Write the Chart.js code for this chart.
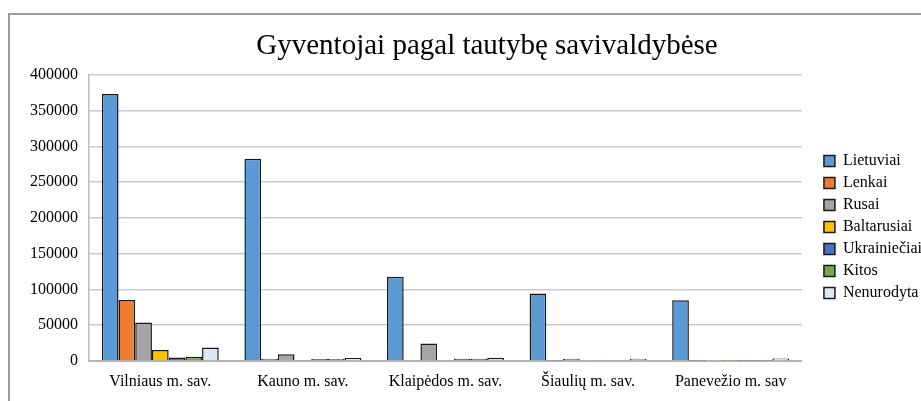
<!DOCTYPE html>
<html>
<head>
<meta charset="utf-8">
<script src="https://cdn.jsdelivr.net/npm/chart.js@4"></script>
<style>
  html, body { margin: 0; padding: 0; background: #fff; overflow: hidden; }
  #wrap { position: relative; width: 921px; height: 401px; }
  #frame {
    position: absolute; left: 8px; top: 13px; width: 940px; height: 420px;
    border: 2px solid #9a9a9a; pointer-events: none;
  }
</style>
</head>
<body>
<div id="wrap">
  <canvas id="chart" width="921" height="401"></canvas>
  <div id="frame"></div>
</div>
<script>
const municipalities = ["Vilniaus m. sav.", "Kauno m. sav.", "Klaipėdos m. sav.", "Šiaulių m. sav.", "Panevežio m. sav"];

const lietuviai    = [373000, 282500, 117600, 94400, 85000];
const lenkai       = [85400, 3300, 1000, 500, 500];
const rusai        = [53800, 9400, 24400, 3000, 1500];
const baltarusiai  = [15400, 800, 1000, 600, 500];
const ukrainieciai = [4800, 2800, 3000, 600, 500];
const kitos        = [6100, 2800, 3000, 600, 500];
const nenurodyta   = [18700, 4200, 4500, 3000, 3500];

const yTicks = [0, 50000, 100000, 150000, 200000, 250000, 300000, 350000, 400000];

const serif = "'Liberation Serif', 'Times New Roman', serif";

const series = [
  { label: "Lietuviai", data: lietuviai, color: "#5b9bd5" },
  { label: "Lenkai", data: lenkai, color: "#ed7d31" },
  { label: "Rusai", data: rusai, color: "#a5a5a5" },
  { label: "Baltarusiai", data: baltarusiai, color: "#ffc000" },
  { label: "Ukrainiečiai", data: ukrainieciai, color: "#4472c4" },
  { label: "Kitos", data: kitos, color: "#70ad47" },
  { label: "Nenurodyta", data: nenurodyta, color: "#dbe8f6" },
];

// the original centres the title on the framed box and pushes the legend to the edge
const nudgeBoxes = {
  id: "nudgeBoxes",
  afterLayout(chart) {
    const t = chart.titleBlock;
    if (t) { t.left += 19; t.right += 19; }
    const l = chart.legend;
    if (l) { l.left += 16; l.right += 16; }
  },
};

new Chart(document.getElementById("chart"), {
  type: "bar",
  data: {
    labels: municipalities,
    datasets: series.map((s) => ({
      label: s.label,
      data: s.data,
      backgroundColor: s.color,
      borderColor: "#1a1a1a",
      borderWidth: 1.5,
      categoryPercentage: 0.82,
      barPercentage: 1,
    })),
  },
  plugins: [nudgeBoxes],
  options: {
    responsive: false,
    animation: false,
    layout: { padding: { left: 20, right: 5, bottom: 10, top: 0 } },
    plugins: {
      title: {
        display: true,
        text: "Gyventojai pagal tautybę savivaldybėse",
        color: "#000",
        font: { family: serif, size: 29, weight: "normal" },
        padding: { top: 29, bottom: 11 },
      },
      legend: {
        position: "right",
        title: { display: true, text: " ", font: { size: 1 }, padding: { top: 62, bottom: 0 } },
        labels: {
          color: "#000",
          font: { family: serif, size: 16 },
          boxWidth: 11,
          boxHeight: 11,
          padding: 6,
        },
      },
      tooltip: { enabled: false },
    },
    scales: {
      x: {
        afterFit: (scale) => { scale.height = 30; },
        grid: { display: false, drawTicks: false },
        border: { display: true, color: "#b5b5b5", width: 2 },
        ticks: { color: "#000", font: { family: serif, size: 16 }, padding: 11 },
      },
      y: {
        min: 0,
        max: 400000,
        afterBuildTicks: (scale) => { scale.ticks = yTicks.map((v) => ({ value: v })); },
        afterFit: (scale) => { scale.width = 69; },
        grid: { color: "#cbcbcb", lineWidth: 1.5, drawTicks: false },
        border: { display: true, color: "#c0c0c0", width: 1.5 },
        ticks: {
          color: "#000",
          font: { family: serif, size: 16 },
          padding: 11,
          callback: (v) => String(v),
        },
      },
    },
  },
});
</script>
</body>
</html>
